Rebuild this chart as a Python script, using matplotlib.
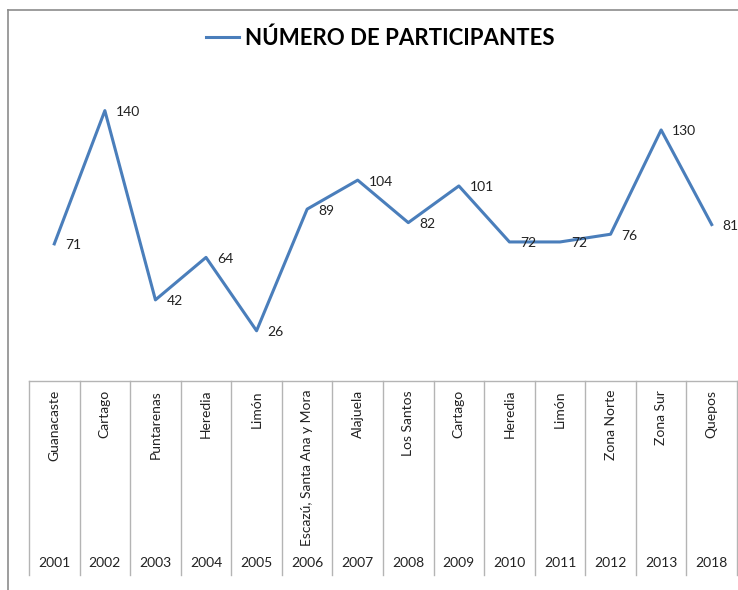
import matplotlib.pyplot as plt
from matplotlib.lines import Line2D

years = ["2001", "2002", "2003", "2004", "2005", "2006", "2007",
         "2008", "2009", "2010", "2011", "2012", "2013", "2018"]
places = ["Guanacaste", "Cartago", "Puntarenas", "Heredia", "Limón",
          "Escazú, Santa Ana y Mora", "Alajuela", "Los Santos", "Cartago",
          "Heredia", "Limón", "Zona Norte", "Zona Sur", "Quepos"]
participants = [71, 140, 42, 64, 26, 89, 104, 82, 101, 72, 72, 76, 130, 81]

W, H = 738, 590
line_color = "#4a7ebb"
grid_color = "#b4b4b4"
font = ["Lato", "DejaVu Sans"]

fig = plt.figure(figsize=(W / 100, H / 100), dpi=100)

# plot area in pixels: left 29, right 737, value 0 at y=381, value 160 at y=72
left, right, bottom, top = 29, 737, 381, 72
ax = fig.add_axes([left / W, 1 - bottom / H, (right - left) / W, (bottom - top) / H])

x = list(range(len(years)))
ax.plot(x, participants, color=line_color, lw=2.2, label="NÚMERO DE PARTICIPANTES")
for xi, v in zip(x, participants):
    ax.annotate(str(v), (xi, v), xytext=(8, -1), textcoords="offset points",
                ha="left", va="center", fontsize=10, family=font, color="#222222")

ax.set_xlim(-0.5, len(years) - 0.5)
ax.set_ylim(0, 160)
ax.set_xticks([])
ax.set_yticks([])
for s in ["left", "right", "top"]:
    ax.spines[s].set_visible(False)
ax.spines["bottom"].set_color(grid_color)
ax.spines["bottom"].set_linewidth(1.0)

# category table below the axis
tr = ax.get_xaxis_transform()
ph = bottom - top
table_bottom = -(575 - bottom) / ph
for i in range(len(years) + 1):
    ax.plot([i - 0.5, i - 0.5], [0, table_bottom], transform=tr,
            color=grid_color, lw=1.0, clip_on=False)
for xi, (p, yr) in enumerate(zip(places, years)):
    ax.text(xi, -(390 - bottom) / ph, p, transform=tr, rotation=90,
            ha="center", va="top", fontsize=10, family=font, color="#222222")
    ax.text(xi, -(563 - bottom) / ph, yr, transform=tr,
            ha="center", va="center", fontsize=10, family=font, color="#222222")

# legend used as title
fig.legend(loc="center", bbox_to_anchor=(0.515, 1 - 38 / H), frameon=False,
           prop=dict(family=font, weight="bold", size=16),
           handlelength=1.5, handletextpad=0.25)

# outer chart frame
fig.add_artist(Line2D([8 / W, 8 / W], [0, 1 - 10 / H], color="#8c8c8c", lw=1.2))
fig.add_artist(Line2D([8 / W, 1], [1 - 10 / H, 1 - 10 / H], color="#8c8c8c", lw=1.2))

fig.savefig("out.png", dpi=100)
